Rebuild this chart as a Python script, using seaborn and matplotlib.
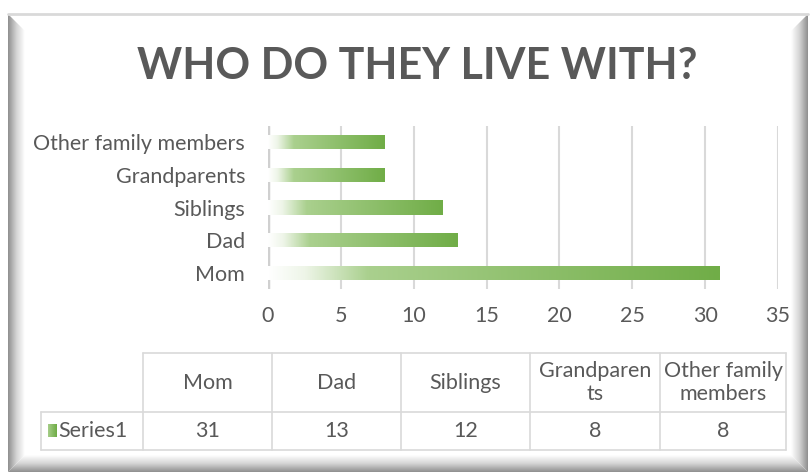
import numpy as np
import pandas as pd
import matplotlib
matplotlib.use("Agg")
import matplotlib.pyplot as plt
from matplotlib.colors import LinearSegmentedColormap
from matplotlib.patches import Polygon
import seaborn as sns

# data
categories = ["Mom", "Dad", "Siblings", "Grandparents", "Other family members"]
header_labels = ["Mom", "Dad", "Siblings", "Grandparen\nts", "Other family\nmembers"]
values = [31, 13, 12, 8, 8]
series_name = "Series1"
x_ticks = [0, 5, 10, 15, 20, 25, 30, 35]

df = pd.DataFrame({"who": categories, "count": values})

sns.set_theme(style="white")
plt.rcParams["font.family"] = ["Lato", "DejaVu Sans"]
TXT = "#595959"
GRID = "#d9d9d9"
FS = 15.5

W, H = 810, 473
fig = plt.figure(figsize=(W / 100, H / 100), dpi=100)

# background layer in pixel coords (frame + table)
bg = fig.add_axes([0, 0, 1, 1])
bg.set_xlim(0, W)
bg.set_ylim(H, 0)
bg.axis("off")

shade = LinearSegmentedColormap.from_list("shade", ["#8f8f8f", "#d4d4d4", "#ffffff"])
ramp = np.linspace(0, 1, 64)
# left edge
im = bg.imshow(ramp[None, :], cmap=shade, extent=[8, 25, 472, 14], aspect="auto", zorder=1)
im.set_clip_path(Polygon([(8, 14), (25, 31), (25, 455), (8, 472)], closed=True, transform=bg.transData))
# right edge
im = bg.imshow(ramp[None, ::-1], cmap=shade, extent=[791, 808, 472, 14], aspect="auto", zorder=1)
im.set_clip_path(Polygon([(808, 14), (791, 31), (791, 455), (808, 472)], closed=True, transform=bg.transData))
# bottom edge
im = bg.imshow(ramp[::-1, None], cmap=shade, extent=[8, 808, 472, 455], aspect="auto", zorder=1)
im.set_clip_path(Polygon([(8, 472), (25, 455), (791, 455), (808, 472)], closed=True, transform=bg.transData))
bg.plot([8, 808], [14.5, 14.5], color=GRID, lw=2, zorder=2)

# title
bg.text(W / 2 + 12, 66, "WHO DO THEY LIVE WITH?", ha="center", va="center",
        fontsize=31, fontweight="bold", color=TXT, zorder=3)

# data table under the chart
col_x = [41, 143, 272, 401, 530, 660, 786]
row_y = [353, 412, 450]
lc = "#d9d9d9"
bg.plot([col_x[1], col_x[-1]], [row_y[0], row_y[0]], color=lc, lw=1.2, zorder=3)
bg.plot([col_x[0], col_x[-1]], [row_y[1], row_y[1]], color=lc, lw=1.2, zorder=3)
bg.plot([col_x[0], col_x[-1]], [row_y[2], row_y[2]], color=lc, lw=1.2, zorder=3)
bg.plot([col_x[0], col_x[0]], [row_y[1], row_y[2]], color=lc, lw=1.2, zorder=3)
for cx in col_x[1:]:
    bg.plot([cx, cx], [row_y[0], row_y[2]], color=lc, lw=1.2, zorder=3)
for i, (lab, v) in enumerate(zip(header_labels, values)):
    xc = (col_x[i + 1] + col_x[i + 2]) / 2
    bg.text(xc, (row_y[0] + row_y[1]) / 2, lab, ha="center", va="center",
            fontsize=FS, color=TXT, linespacing=1.2, zorder=3)
    bg.text(xc, (row_y[1] + row_y[2]) / 2, str(v), ha="center", va="center",
            fontsize=FS, color=TXT, zorder=3)

# bar gradient colours
grad = LinearSegmentedColormap.from_list(
    "grad", [(0.0, "#ffffff"), (0.08, "#eef5e8"), (0.22, "#aad08e"), (1.0, "#70ad47")])

# legend key in table
bg.imshow(np.linspace(0.3, 1, 16)[None, :], cmap=grad, vmin=0, vmax=1,
          extent=[48, 57, 437, 424], aspect="auto", zorder=3)
bg.text(58, (row_y[1] + row_y[2]) / 2, series_name, ha="left", va="center",
        fontsize=FS, color=TXT, zorder=3)

# bar chart
ax = fig.add_axes([268 / W, 1 - 289 / H, 510 / W, 163 / H])
ax.patch.set_alpha(0)
sns.barplot(data=df, x="count", y="who", order=categories[::-1], orient="h",
            width=0.43, color="#70ad47", ax=ax, zorder=3)
ax.set_xlim(0, 35)
ax.set_ylim(4.5, -0.5)
for p in ax.patches:
    x0, y0 = p.get_x(), p.get_y()
    w, h = p.get_width(), p.get_height()
    g = ax.imshow(np.linspace(0, 1, 256)[None, :], cmap=grad, vmin=0, vmax=1,
                  extent=[x0, x0 + w, y0 + h, y0], aspect="auto", zorder=3)
    g.set_clip_path(p)
    p.set_facecolor("none")
    p.set_edgecolor("none")
ax.set_xlim(0, 35)
ax.set_ylim(4.5, -0.5)
ax.set_xticks(x_ticks)
for t in x_ticks:
    ax.axvline(t, color=GRID, lw=1.5, zorder=1)
ax.axvline(0, color="#d0d0d0", lw=2.5, zorder=2)
for s in ax.spines.values():
    s.set_visible(False)
ax.set_xlabel("")
ax.set_ylabel("")
ax.tick_params(axis="x", length=0, pad=12, labelsize=FS, labelcolor=TXT)
ax.tick_params(axis="y", length=0, pad=16.5, labelsize=FS, labelcolor=TXT)

fig.savefig("out.png", dpi=100)
